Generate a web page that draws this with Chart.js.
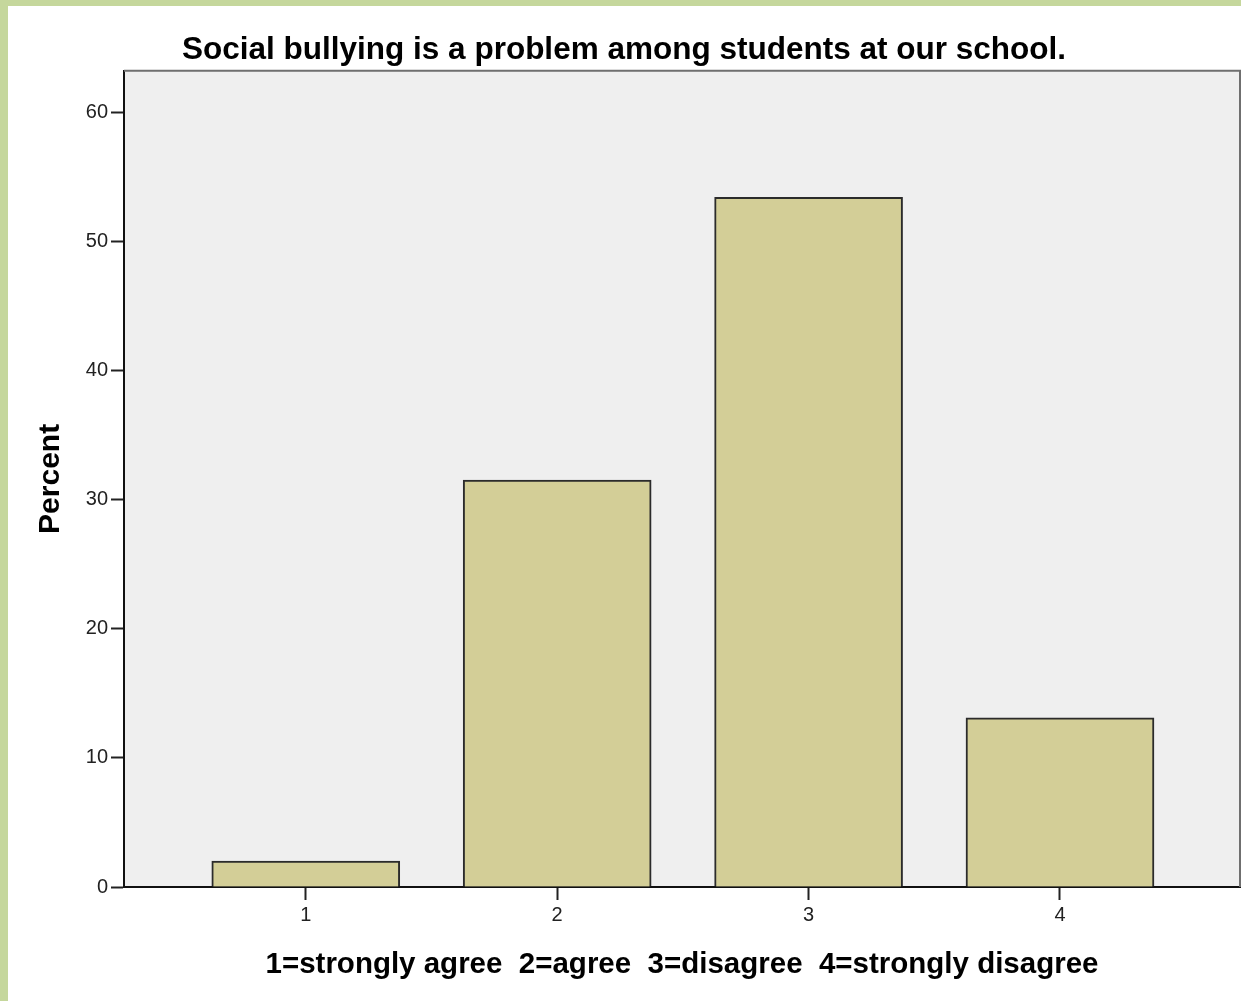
<!DOCTYPE html>
<html>
<head>
<meta charset="utf-8">
<title>Social bullying</title>
<script src="https://cdn.jsdelivr.net/npm/chart.js@4.4.1/dist/chart.umd.min.js"></script>
<style>
  html, body { margin: 0; padding: 0; background: #fff; }
  #wrap {
    width: 1233px; height: 995px;
    border-left: 8px solid #c5d79c;
    border-top: 6px solid #c5d79c;
    background: #fff;
  }
</style>
</head>
<body>
<div id="wrap"><canvas id="bullyChart" width="1233" height="995"></canvas></div>
<script>
// answer codes and percent of students
var answers = [1, 2, 3, 4];
var percents = [2.0, 31.5, 53.4, 13.1];
var yTicks = [0, 10, 20, 30, 40, 50, 60];

var fontFamily = "'Liberation Sans', Arial, sans-serif";

// gray plot background plus the top/right frame lines
var plotFrame = {
  id: 'plotFrame',
  beforeDraw: function(chart) {
    var a = chart.chartArea, c = chart.ctx;
    c.save();
    c.fillStyle = '#efefef';
    c.fillRect(a.left, a.top, a.right - a.left, a.bottom - a.top);
    c.restore();
  },
  afterDraw: function(chart) {
    var a = chart.chartArea, c = chart.ctx;
    c.save();
    c.strokeStyle = '#6f6f6f';
    c.lineWidth = 2;
    c.beginPath();
    c.moveTo(a.left, a.top);
    c.lineTo(a.right, a.top);
    c.lineTo(a.right, a.bottom);
    c.stroke();
    c.restore();
  }
};

var chartdata = {
  datasets: [{
    label: 'Percent',
    data: answers.map(function(v, i) { return { x: v, y: percents[i] }; }),
    backgroundColor: '#d3ce97',
    borderColor: '#2b2b2b',
    borderWidth: 2,
    barThickness: 188
  }]
};

var charoptions = {
  responsive: false,
  animation: false,
  layout: { padding: { left: 0, right: 1, top: 0, bottom: 0 } },
  plugins: {
    legend: { display: false },
    tooltip: { enabled: false },
    title: {
      display: true,
      text: 'Social bullying is a problem among students at our school.',
      color: '#000',
      font: { family: fontFamily, size: 31.5, weight: 'bold' },
      padding: { top: 25, bottom: 2 }
    }
  },
  scales: {
    x: {
      type: 'linear',
      offset: false,
      min: 0.277,
      max: 4.716,
      afterBuildTicks: function(scale) {
        scale.ticks = answers.map(function(v) { return { value: v }; });
      },
      afterFit: function(scale) { scale.height = 114; },
      grid: { offset: false, drawOnChartArea: false, drawTicks: true, tickLength: 13, tickColor: '#222', tickWidth: 2 },
      border: { display: true, color: '#111', width: 2 },
      ticks: { color: '#222', padding: 3, font: { family: fontFamily, size: 20 } },
      title: {
        display: true,
        text: '1=strongly agree  2=agree  3=disagree  4=strongly disagree',
        color: '#000',
        font: { family: fontFamily, size: 29.5, weight: 'bold' },
        padding: { top: 0, bottom: 18 }
      }
    },
    y: {
      min: 0,
      max: 63.2,
      afterBuildTicks: function(scale) {
        scale.ticks = yTicks.map(function(v) { return { value: v }; });
      },
      afterFit: function(scale) { scale.width = 116; },
      grid: { drawOnChartArea: false, drawTicks: true, tickLength: 13, tickColor: '#222', tickWidth: 2 },
      border: { display: true, color: '#111', width: 2 },
      ticks: { color: '#222', padding: 3, font: { family: fontFamily, size: 20 } },
      title: {
        display: true,
        text: 'Percent',
        color: '#000',
        font: { family: fontFamily, size: 30, weight: 'bold' },
        padding: { top: 25, bottom: 0 }
      }
    }
  }
};

var ctx = document.getElementById('bullyChart');
var barGraph = new Chart(ctx, {
  type: 'bar',
  data: chartdata,
  options: charoptions,
  plugins: [plotFrame]
});
</script>
</body>
</html>
